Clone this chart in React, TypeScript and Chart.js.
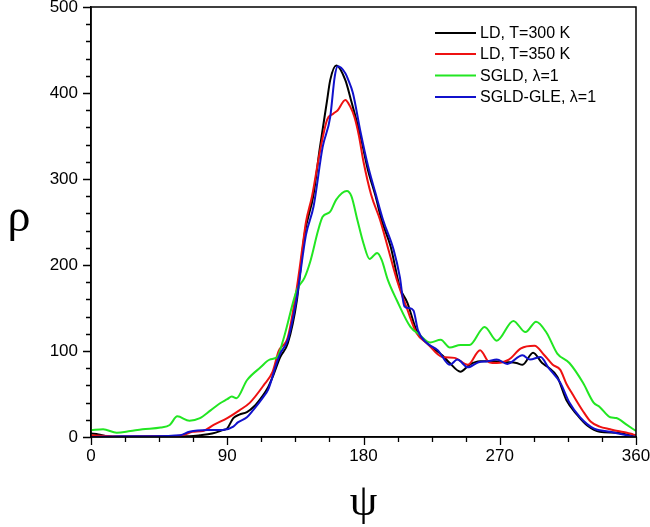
import React, { useEffect, useRef } from 'react';
import { Chart, registerables } from 'chart.js';

Chart.register(...registerables);

const W = 650;
const H = 527;

const seriesNames = ['LD, T=300 K', 'LD, T=350 K', 'SGLD, λ=1', 'SGLD-GLE, λ=1'];
const seriesColors = ['#000000', '#ee1111', '#22e622', '#1111cc'];

const xTickLabels = ['0', '90', '180', '270', '360'];
const yTickLabels = ['0', '100', '200', '300', '400', '500'];

const psiBlack = [0, 5, 10, 20, 40, 60, 65, 72, 80, 87, 90, 94, 98, 103, 108, 113, 117, 120, 125, 130, 136, 141, 147, 151, 156, 158, 162, 168, 172, 178, 183, 188, 192, 198, 204, 209, 215, 222, 232, 237, 244, 250, 257, 266, 275, 281, 285, 292, 298, 302, 308, 314, 321, 328, 336, 347, 358, 360];
const rhoBlack = [4, 3, 1, 0, 1, 1, 1, 2, 4, 8, 10, 22, 26, 29, 36, 47, 58, 70, 93, 109, 159, 235, 282, 334, 392, 415, 432, 415, 390, 350, 310, 280, 252, 221, 174, 156, 124, 109, 95, 86, 76, 84, 88, 88, 87, 86, 84, 98, 86, 81, 70, 43, 26, 13, 6, 5, 1, 0];

const psiRed = [0, 20, 40, 55, 62, 67, 74, 81, 90, 98, 105, 114, 120, 124, 130, 136, 140, 142, 146, 151, 156, 160, 163, 168, 171, 174, 177, 180, 185, 191, 196, 202, 209, 215, 222, 232, 240, 249, 257, 263, 268, 276, 284, 293, 299, 305, 310, 314, 318, 325, 330, 336, 343, 348, 354, 358, 360];
const rhoRed = [2, 1, 1, 1, 3, 6, 7, 14, 22, 31, 40, 60, 76, 100, 116, 174, 225, 250, 280, 330, 369, 376, 380, 392, 385, 372, 350, 320, 282, 252, 221, 183, 148, 121, 109, 93, 92, 84, 101, 87, 86, 90, 103, 106, 96, 84, 78, 62, 50, 30, 18, 12, 9, 7, 5, 3, 2];

const psiGreen = [0, 8, 17, 26, 34, 46, 52, 57, 65, 72, 79, 85, 90, 93, 96, 103, 112, 118, 123, 127, 136, 141, 145, 150, 153, 158, 162, 169, 172, 176, 180, 184, 189, 192, 196, 202, 211, 217, 224, 231, 237, 244, 250, 260, 268, 279, 287, 294, 301, 308, 316, 325, 332, 336, 343, 347, 354, 360];
const rhoGreen = [8, 9, 5, 7, 9, 11, 14, 24, 19, 22, 31, 39, 44, 47, 45, 66, 81, 90, 93, 113, 171, 185, 205, 240, 256, 262, 276, 286, 280, 252, 225, 207, 214, 206, 183, 159, 128, 119, 110, 113, 104, 107, 107, 128, 112, 135, 122, 134, 121, 97, 86, 63, 40, 35, 23, 22, 14, 7];

const psiBlue = [0, 20, 40, 59, 65, 77, 87, 94, 97, 103, 107, 114, 117, 123, 125, 130, 136, 142, 147, 153, 158, 161, 163, 168, 170, 173, 178, 183, 188, 193, 200, 204, 207, 210, 213, 216, 222, 229, 237, 242, 249, 256, 262, 268, 275, 285, 290, 297, 302, 310, 316, 323, 332, 343, 354, 360];
const rhoBlue = [0, 1, 1, 2, 6, 8, 8, 12, 17, 23, 31, 47, 55, 88, 97, 113, 163, 235, 268, 337, 372, 419, 431, 423, 415, 400, 355, 315, 283, 252, 217, 186, 152, 150, 147, 124, 109, 101, 84, 90, 81, 87, 88, 90, 85, 95, 90, 93, 81, 63, 40, 23, 10, 6, 2, 0];

const toPoints = (xs: number[], ys: number[]) => xs.map((x, i) => ({ x, y: ys[i] }));

const SANS = '"Liberation Sans", Arial, Helvetica, sans-serif';
const SERIF = '"Liberation Serif", "Times New Roman", serif';

const decorPlugin = {
  id: 'decor',
  afterDraw(chart: any) {
    const ctx = chart.ctx as CanvasRenderingContext2D;
    const area = chart.chartArea;
    const xs = chart.scales.x;
    const ys = chart.scales.y;
    ctx.save();
    ctx.strokeStyle = '#000';
    ctx.lineWidth = 1.5;
    ctx.strokeRect(area.left, area.top, area.right - area.left, area.bottom - area.top);
    ctx.lineWidth = 1.3;
    ctx.beginPath();
    xs.ticks.forEach((t: any) => {
      const px = Math.round(xs.getPixelForValue(t.value)) + 0.5;
      const major = Math.abs(t.value % 90) < 1e-6;
      const len = major ? 8 : 5;
      ctx.moveTo(px, area.bottom);
      ctx.lineTo(px, area.bottom + len);
    });
    ys.ticks.forEach((t: any) => {
      const py = Math.round(ys.getPixelForValue(t.value)) + 0.5;
      const major = Math.abs(t.value % 100) < 1e-6;
      const len = major ? 8 : 5;
      ctx.moveTo(area.left - len, py);
      ctx.lineTo(area.left, py);
    });
    ctx.stroke();

    ctx.fillStyle = '#000';
    ctx.textAlign = 'center';
    ctx.textBaseline = 'alphabetic';
    ctx.font = `46px ${SERIF}`;
    ctx.fillText('ρ', 19, 231);
    ctx.font = `44px ${SERIF}`;
    ctx.fillText('ψ', (area.left + area.right) / 2, 515);

    ctx.font = `16px ${SANS}`;
    ctx.textAlign = 'left';
    ctx.textBaseline = 'middle';
    const rowY = [33, 54, 75.5, 97];
    seriesNames.forEach((name, i) => {
      const y = rowY[i];
      ctx.strokeStyle = seriesColors[i];
      ctx.lineWidth = 2;
      ctx.beginPath();
      ctx.moveTo(435, y);
      ctx.lineTo(476, y);
      ctx.stroke();
      ctx.fillStyle = '#000';
      ctx.fillText(name, 480, y + 1);
    });
    ctx.restore();
  },
};

export default function App() {
  const ref = useRef<HTMLCanvasElement>(null);
  useEffect(() => {
    const canvas = ref.current;
    if (!canvas) return;
    const mk = (i: number, pts: { x: number; y: number }[], order: number) => ({
      label: seriesNames[i],
      data: pts,
      borderColor: seriesColors[i],
      backgroundColor: seriesColors[i],
      borderWidth: 2,
      pointRadius: 0,
      fill: false,
      cubicInterpolationMode: 'monotone' as const,
      order,
    });
    const chart = new Chart(canvas, {
      type: 'line',
      data: {
        datasets: [
          mk(0, toPoints(psiBlack, rhoBlack), 4),
          mk(1, toPoints(psiRed, rhoRed), 3),
          mk(2, toPoints(psiGreen, rhoGreen), 2),
          mk(3, toPoints(psiBlue, rhoBlue), 1),
        ],
      },
      options: {
        responsive: false,
        animation: false,
        devicePixelRatio: 1,
        layout: { padding: { left: 0, top: 7, right: 14, bottom: 0 } },
        plugins: { legend: { display: false }, tooltip: { enabled: false } },
        scales: {
          x: {
            type: 'linear',
            min: 0,
            max: 360,
            afterFit: (s: any) => { s.height = 90; s.paddingLeft = 0; s.paddingRight = 0; },
            ticks: {
              stepSize: 22.5,
              autoSkip: false,
              maxRotation: 0,
              padding: 9,
              color: '#000',
              font: { family: SANS, size: 17 },
              callback: (v: any) => (Math.abs(v % 90) < 1e-6 ? xTickLabels[Math.round(v / 90)] : ''),
            },
            grid: { drawOnChartArea: false, drawTicks: false },
            border: { display: true, color: '#000', width: 1.5 },
          },
          y: {
            type: 'linear',
            min: 0,
            max: 500,
            afterFit: (s: any) => { s.width = 91; s.paddingTop = 0; s.paddingBottom = 0; },
            ticks: {
              stepSize: 20,
              autoSkip: false,
              padding: 13,
              color: '#000',
              font: { family: SANS, size: 17 },
              callback: (v: any) => (Math.abs(v % 100) < 1e-6 ? yTickLabels[Math.round(v / 100)] : ''),
            },
            grid: { drawOnChartArea: false, drawTicks: false },
            border: { display: true, color: '#000', width: 1.5 },
          },
        },
      },
      plugins: [decorPlugin],
    });
    return () => chart.destroy();
  }, []);
  return (
    <div style={{ position: 'fixed', left: 0, top: 0, width: W, height: H, background: '#fff' }}>
      <canvas ref={ref} width={W} height={H} style={{ width: W, height: H, display: 'block' }} />
    </div>
  );
}
